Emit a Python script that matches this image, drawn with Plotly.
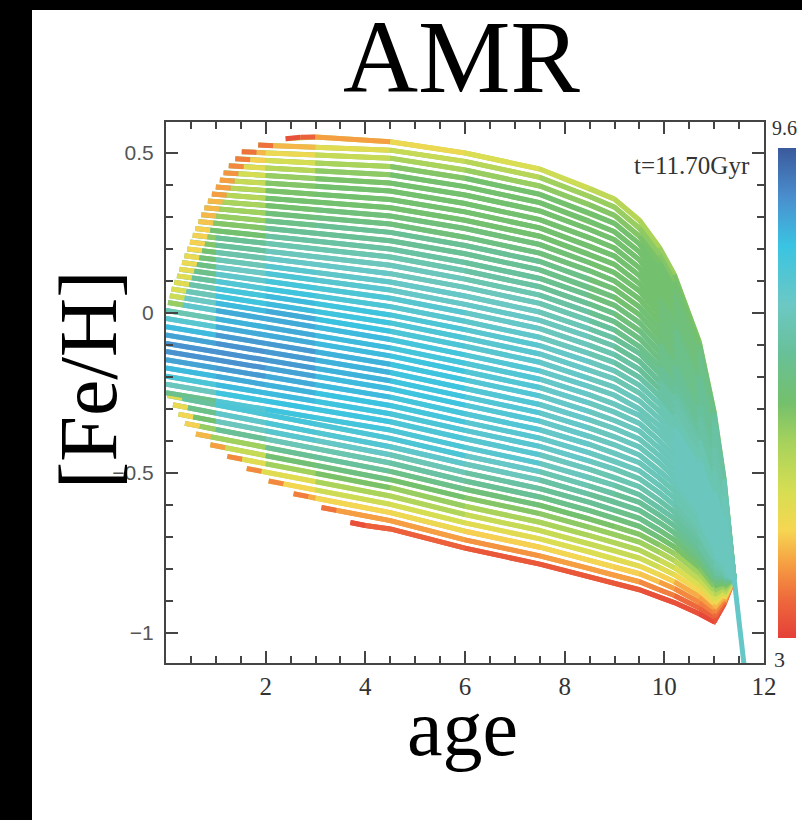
import plotly.graph_objects as go
from plotly.colors import sample_colorscale

# ---------------------------------------------------------------------------
# Age-metallicity tracks at t = 11.70 Gyr.
# Every track shares the age columns below; a track that begins later starts
# with its own leading ages (TRACK_HEAD_AGES) and then picks up the columns.
# ---------------------------------------------------------------------------
AGE_COLS = [0, 1, 2, 3, 4.5, 6, 7.5, 8.5, 9.0, 9.5, 9.9, 10.2, 10.7, 11.0, 11.2, 11.4]

TRACK_HEAD_AGES = [
    [2.4, 2.7], [1.85, 2.15], [1.52, 1.82], [1.39, 1.69], [1.26, 1.56],
    [1.155, 1.455], [1.08, 1.38], [1.0, 1.3], [0.92, 1.22], [0.84, 1.14],
    [0.77, 1.07], [0.71, 1.01], [0.65, 0.95], [0.59, 0.89], [0.535, 0.835],
    [0.48, 0.78], [0.425, 0.725], [0.37, 0.67], [0.32, 0.62], [0.27, 0.57],
    [0.22, 0.52], [0.165, 0.465], [0.11, 0.41], [0.075, 0.375], [0.04, 0.34],
    [], [], [], [], [], [], [], [], [], [], [],
    [0.03, 0.33], [0.14, 0.44], [0.25, 0.55], [0.38, 0.68], [0.60, 0.90],
    [0.89, 1.19], [1.23, 1.53], [1.62, 1.92], [2.06, 2.36], [2.56, 2.86],
    [3.12, 3.42], [3.7, 4.0],
]

TRACK_FEH = [
    [0.545, 0.549, 0.550, 0.535, 0.500, 0.450, 0.390, 0.356, 0.290, 0.205, 0.120, -0.090, -0.310, -0.520, -0.830],
    [0.525, 0.523, 0.518, 0.509, 0.474, 0.424, 0.364, 0.331, 0.265, 0.182, 0.098, -0.108, -0.324, -0.528, -0.830],
    [0.504, 0.502, 0.500, 0.494, 0.484, 0.447, 0.397, 0.338, 0.305, 0.240, 0.159, 0.076, -0.126, -0.338, -0.537, -0.830],
    [0.482, 0.479, 0.477, 0.469, 0.458, 0.421, 0.371, 0.312, 0.280, 0.216, 0.135, 0.055, -0.144, -0.352, -0.545, -0.830],
    [0.460, 0.457, 0.453, 0.445, 0.432, 0.395, 0.345, 0.287, 0.254, 0.191, 0.112, 0.033, -0.162, -0.366, -0.553, -0.830],
    [0.438, 0.435, 0.430, 0.420, 0.406, 0.369, 0.319, 0.261, 0.229, 0.166, 0.089, 0.011, -0.180, -0.380, -0.562, -0.830],
    [0.416, 0.412, 0.406, 0.396, 0.381, 0.342, 0.292, 0.235, 0.203, 0.141, 0.066, -0.011, -0.199, -0.394, -0.570, -0.830],
    [0.394, 0.390, 0.383, 0.371, 0.355, 0.316, 0.266, 0.209, 0.178, 0.117, 0.042, -0.033, -0.217, -0.408, -0.578, -0.830],
    [0.372, 0.368, 0.359, 0.347, 0.329, 0.290, 0.240, 0.183, 0.152, 0.092, 0.019, -0.055, -0.235, -0.422, -0.586, -0.830],
    [0.350, 0.347, 0.336, 0.323, 0.303, 0.264, 0.214, 0.157, 0.126, 0.069, -0.004, -0.076, -0.253, -0.435, -0.595, -0.830],
    [0.329, 0.325, 0.312, 0.298, 0.278, 0.237, 0.187, 0.132, 0.100, 0.044, -0.028, -0.098, -0.271, -0.449, -0.603, -0.830],
    [0.307, 0.303, 0.288, 0.274, 0.252, 0.211, 0.161, 0.106, 0.075, 0.019, -0.051, -0.120, -0.289, -0.463, -0.611, -0.830],
    [0.286, 0.281, 0.265, 0.249, 0.226, 0.185, 0.135, 0.080, 0.049, -0.005, -0.074, -0.142, -0.307, -0.477, -0.620, -0.830],
    [0.264, 0.259, 0.241, 0.225, 0.200, 0.158, 0.108, 0.054, 0.024, -0.030, -0.097, -0.164, -0.325, -0.491, -0.628, -0.830],
    [0.243, 0.238, 0.235, 0.218, 0.200, 0.175, 0.132, 0.082, 0.028, -0.002, -0.055, -0.121, -0.185, -0.343, -0.505, -0.636, -0.830],
    [0.222, 0.216, 0.212, 0.194, 0.176, 0.149, 0.106, 0.056, 0.002, -0.027, -0.080, -0.144, -0.207, -0.361, -0.519, -0.645, -0.830],
    [0.200, 0.195, 0.190, 0.171, 0.152, 0.123, 0.080, 0.030, -0.024, -0.053, -0.105, -0.167, -0.229, -0.379, -0.533, -0.653, -0.830],
    [0.179, 0.173, 0.167, 0.147, 0.127, 0.097, 0.053, 0.003, -0.050, -0.079, -0.126, -0.190, -0.251, -0.397, -0.547, -0.661, -0.830],
    [0.158, 0.152, 0.144, 0.124, 0.103, 0.072, 0.027, -0.023, -0.075, -0.104, -0.151, -0.214, -0.273, -0.416, -0.561, -0.669, -0.830],
    [0.137, 0.131, 0.122, 0.100, 0.078, 0.046, 0.001, -0.049, -0.101, -0.130, -0.176, -0.237, -0.294, -0.434, -0.575, -0.678, -0.830],
    [0.116, 0.110, 0.099, 0.076, 0.054, 0.020, -0.026, -0.076, -0.127, -0.155, -0.201, -0.260, -0.316, -0.452, -0.589, -0.686, -0.830],
    [0.096, 0.089, 0.076, 0.053, 0.030, -0.006, -0.052, -0.102, -0.153, -0.181, -0.226, -0.283, -0.338, -0.470, -0.603, -0.694, -0.830],
    [0.075, 0.068, 0.053, 0.029, 0.005, -0.031, -0.078, -0.128, -0.179, -0.206, -0.250, -0.307, -0.360, -0.488, -0.617, -0.703, -0.830],
    [0.054, 0.047, 0.031, 0.006, -0.019, -0.057, -0.104, -0.154, -0.205, -0.232, -0.275, -0.330, -0.382, -0.506, -0.631, -0.711, -0.830],
    [0.033, 0.025, 0.008, -0.018, -0.044, -0.083, -0.131, -0.181, -0.230, -0.257, -0.300, -0.353, -0.403, -0.524, -0.645, -0.719, -0.830],
    [0.008, -0.018, -0.044, -0.070, -0.109, -0.157, -0.207, -0.256, -0.285, -0.320, -0.376, -0.425, -0.542, -0.658, -0.728, -0.830],
    [-0.017, -0.043, -0.069, -0.095, -0.134, -0.183, -0.233, -0.282, -0.310, -0.345, -0.400, -0.447, -0.560, -0.672, -0.736, -0.830],
    [-0.043, -0.069, -0.095, -0.121, -0.160, -0.209, -0.259, -0.308, -0.336, -0.369, -0.423, -0.469, -0.578, -0.686, -0.744, -0.830],
    [-0.069, -0.095, -0.121, -0.147, -0.186, -0.236, -0.286, -0.334, -0.361, -0.394, -0.446, -0.491, -0.596, -0.700, -0.752, -0.830],
    [-0.095, -0.121, -0.147, -0.173, -0.212, -0.262, -0.312, -0.360, -0.387, -0.419, -0.469, -0.513, -0.615, -0.714, -0.761, -0.830],
    [-0.120, -0.146, -0.172, -0.198, -0.237, -0.288, -0.338, -0.386, -0.412, -0.444, -0.493, -0.534, -0.633, -0.728, -0.769, -0.830],
    [-0.146, -0.172, -0.198, -0.224, -0.263, -0.315, -0.365, -0.411, -0.438, -0.468, -0.516, -0.556, -0.651, -0.742, -0.777, -0.830],
    [-0.172, -0.198, -0.224, -0.250, -0.289, -0.341, -0.391, -0.437, -0.463, -0.493, -0.539, -0.578, -0.669, -0.756, -0.786, -0.830],
    [-0.198, -0.224, -0.250, -0.276, -0.315, -0.367, -0.417, -0.463, -0.488, -0.518, -0.562, -0.600, -0.687, -0.770, -0.794, -0.830],
    [-0.223, -0.249, -0.275, -0.301, -0.340, -0.393, -0.443, -0.489, -0.514, -0.543, -0.586, -0.622, -0.705, -0.784, -0.802, -0.830],
    [-0.249, -0.275, -0.301, -0.327, -0.366, -0.420, -0.470, -0.515, -0.539, -0.568, -0.609, -0.643, -0.723, -0.798, -0.810, -0.830],
    [-0.258, -0.267, -0.287, -0.317, -0.347, -0.392, -0.446, -0.496, -0.541, -0.565, -0.592, -0.632, -0.665, -0.741, -0.812, -0.819, -0.830],
    [-0.287, -0.296, -0.313, -0.343, -0.373, -0.418, -0.472, -0.522, -0.567, -0.590, -0.617, -0.655, -0.687, -0.759, -0.826, -0.827, -0.830],
    [-0.316, -0.325, -0.338, -0.368, -0.398, -0.443, -0.499, -0.549, -0.592, -0.616, -0.642, -0.679, -0.709, -0.777, -0.840, -0.835, -0.830],
    [-0.345, -0.354, -0.364, -0.394, -0.424, -0.469, -0.525, -0.575, -0.618, -0.641, -0.667, -0.702, -0.731, -0.795, -0.854, -0.844, -0.830],
    [-0.378, -0.387, -0.420, -0.450, -0.495, -0.551, -0.601, -0.644, -0.667, -0.692, -0.725, -0.752, -0.813, -0.867, -0.852, -0.830],
    [-0.412, -0.421, -0.446, -0.476, -0.521, -0.577, -0.627, -0.670, -0.692, -0.716, -0.748, -0.774, -0.832, -0.881, -0.860, -0.830],
    [-0.448, -0.457, -0.471, -0.501, -0.546, -0.604, -0.654, -0.696, -0.718, -0.741, -0.772, -0.796, -0.850, -0.895, -0.869, -0.830],
    [-0.486, -0.495, -0.527, -0.572, -0.630, -0.680, -0.722, -0.743, -0.766, -0.795, -0.818, -0.868, -0.909, -0.877, -0.830],
    [-0.525, -0.534, -0.553, -0.598, -0.656, -0.706, -0.747, -0.769, -0.791, -0.818, -0.840, -0.886, -0.923, -0.885, -0.830],
    [-0.565, -0.574, -0.579, -0.624, -0.682, -0.732, -0.773, -0.794, -0.815, -0.841, -0.861, -0.904, -0.937, -0.893, -0.830],
    [-0.608, -0.617, -0.649, -0.709, -0.759, -0.799, -0.820, -0.840, -0.865, -0.883, -0.922, -0.951, -0.902, -0.830],
    [-0.655, -0.664, -0.675, -0.735, -0.785, -0.825, -0.845, -0.865, -0.888, -0.905, -0.940, -0.965, -0.910, -0.830],
]

# colour-bar quantity along each track (same points as TRACK_FEH)
TRACK_COLOR = [
    [3.2, 3.3, 3.5, 4.4, 4.8, 5.0, 5.2, 5.4, 5.5, 5.7, 5.9, 6.2, 6.6, 7.0, 7.4],
    [3.3, 4.0, 4.5, 5.1, 5.3, 5.6, 5.8, 5.8, 5.8, 6.0, 6.1, 6.3, 6.7, 7.1, 7.4],
    [3.3, 4.0, 4.3, 4.9, 5.5, 5.8, 5.8, 6.0, 6.0, 6.1, 6.1, 6.2, 6.4, 6.8, 7.1, 7.4],
    [3.3, 4.1, 4.8, 5.3, 5.9, 6.1, 6.2, 6.2, 6.2, 6.2, 6.2, 6.3, 6.5, 6.8, 7.1, 7.4],
    [3.3, 4.3, 5.2, 5.7, 6.1, 6.2, 6.2, 6.2, 6.2, 6.2, 6.2, 6.3, 6.5, 6.8, 7.1, 7.4],
    [3.3, 4.5, 5.6, 6.0, 6.2, 6.2, 6.2, 6.2, 6.2, 6.2, 6.2, 6.3, 6.5, 6.8, 7.1, 7.4],
    [3.3, 4.6, 5.9, 6.1, 6.2, 6.2, 6.2, 6.2, 6.2, 6.2, 6.2, 6.3, 6.6, 6.9, 7.2, 7.4],
    [3.3, 4.7, 6.0, 6.2, 6.3, 6.2, 6.3, 6.2, 6.2, 6.2, 6.3, 6.4, 6.6, 6.9, 7.2, 7.4],
    [3.3, 4.8, 6.1, 6.2, 6.3, 6.2, 6.3, 6.2, 6.2, 6.2, 6.3, 6.4, 6.7, 7.0, 7.2, 7.4],
    [3.3, 5.0, 6.2, 6.3, 6.4, 6.3, 6.4, 6.2, 6.2, 6.2, 6.3, 6.4, 6.7, 7.0, 7.2, 7.4],
    [3.3, 5.1, 6.3, 6.5, 6.5, 6.4, 6.6, 6.3, 6.3, 6.2, 6.3, 6.4, 6.7, 7.0, 7.2, 7.4],
    [3.3, 5.2, 6.5, 6.7, 6.8, 6.7, 6.8, 6.3, 6.3, 6.2, 6.4, 6.5, 6.8, 7.0, 7.2, 7.4],
    [3.3, 5.3, 6.7, 6.8, 6.9, 6.8, 6.8, 6.4, 6.3, 6.2, 6.4, 6.5, 6.8, 7.0, 7.2, 7.4],
    [3.3, 5.5, 6.9, 7.0, 7.0, 6.9, 6.9, 6.5, 6.4, 6.3, 6.5, 6.6, 6.9, 7.1, 7.2, 7.4],
    [3.3, 5.6, 6.3, 7.2, 7.2, 7.3, 7.1, 7.0, 6.6, 6.5, 6.4, 6.6, 6.7, 6.9, 7.1, 7.3, 7.4],
    [3.3, 5.6, 6.4, 7.4, 7.4, 7.4, 7.3, 7.2, 6.8, 6.6, 6.4, 6.6, 6.7, 6.9, 7.1, 7.3, 7.4],
    [3.3, 5.7, 6.6, 7.6, 7.6, 7.5, 7.4, 7.4, 7.0, 6.8, 6.5, 6.7, 6.8, 7.0, 7.1, 7.3, 7.4],
    [3.3, 5.8, 6.8, 7.8, 7.8, 7.6, 7.5, 7.5, 7.1, 6.9, 6.6, 6.8, 6.9, 7.1, 7.2, 7.3, 7.4],
    [3.3, 6.0, 7.0, 8.0, 8.0, 7.7, 7.6, 7.6, 7.2, 7.0, 6.7, 6.9, 7.0, 7.2, 7.3, 7.4, 7.5],
    [3.3, 6.1, 7.2, 8.2, 8.1, 7.8, 7.7, 7.6, 7.3, 7.1, 6.8, 6.9, 7.0, 7.2, 7.3, 7.4, 7.5],
    [3.3, 6.3, 7.5, 8.3, 8.2, 7.9, 7.8, 7.6, 7.3, 7.1, 6.9, 7.0, 7.1, 7.3, 7.3, 7.4, 7.5],
    [3.3, 6.4, 7.8, 8.4, 8.3, 8.0, 7.9, 7.7, 7.4, 7.3, 7.1, 7.2, 7.2, 7.3, 7.4, 7.4, 7.5],
    [3.3, 6.6, 8.0, 8.5, 8.4, 8.1, 7.9, 7.7, 7.4, 7.3, 7.2, 7.2, 7.3, 7.4, 7.4, 7.4, 7.5],
    [3.4, 6.8, 8.2, 8.6, 8.5, 8.1, 8.0, 7.7, 7.5, 7.4, 7.3, 7.3, 7.3, 7.4, 7.4, 7.4, 7.5],
    [4.5, 7.0, 8.4, 8.7, 8.6, 8.2, 8.0, 7.8, 7.5, 7.4, 7.3, 7.3, 7.3, 7.4, 7.4, 7.4, 7.5],
    [6.0, 8.4, 8.6, 8.5, 8.2, 8.0, 7.8, 7.5, 7.4, 7.3, 7.3, 7.3, 7.4, 7.4, 7.4, 7.5],
    [7.0, 8.6, 8.7, 8.6, 8.3, 8.0, 7.8, 7.5, 7.4, 7.3, 7.3, 7.3, 7.4, 7.4, 7.4, 7.5],
    [7.9, 8.8, 8.8, 8.7, 8.3, 8.0, 7.8, 7.5, 7.4, 7.3, 7.3, 7.3, 7.4, 7.4, 7.4, 7.5],
    [8.5, 8.9, 8.9, 8.7, 8.3, 8.0, 7.8, 7.5, 7.4, 7.3, 7.3, 7.3, 7.4, 7.4, 7.4, 7.5],
    [8.8, 8.9, 8.9, 8.7, 8.3, 8.0, 7.8, 7.5, 7.4, 7.3, 7.3, 7.3, 7.4, 7.4, 7.4, 7.5],
    [8.8, 8.9, 8.8, 8.6, 8.3, 8.0, 7.8, 7.5, 7.4, 7.3, 7.3, 7.3, 7.3, 7.4, 7.4, 7.5],
    [8.6, 8.8, 8.7, 8.5, 8.2, 8.0, 7.8, 7.5, 7.4, 7.3, 7.3, 7.2, 7.3, 7.3, 7.4, 7.5],
    [8.3, 8.6, 8.6, 8.4, 8.2, 8.0, 7.7, 7.4, 7.4, 7.3, 7.3, 7.2, 7.2, 7.3, 7.4, 7.5],
    [7.6, 8.4, 8.4, 8.3, 8.1, 8.0, 7.7, 7.4, 7.3, 7.2, 7.2, 7.1, 7.1, 7.2, 7.3, 7.5],
    [6.6, 8.1, 8.3, 8.3, 8.1, 8.0, 7.6, 7.3, 7.2, 7.1, 7.1, 7.0, 7.0, 7.1, 7.2, 7.4],
    [5.5, 7.6, 8.2, 8.2, 8.1, 8.0, 7.5, 7.2, 7.1, 7.0, 7.0, 6.9, 6.9, 7.0, 7.2, 7.4],
    [3.5, 6.0, 7.8, 8.2, 8.1, 8.0, 7.9, 7.3, 7.0, 6.9, 6.8, 6.8, 6.8, 6.8, 6.9, 7.1, 7.4],
    [3.5, 5.8, 7.4, 8.0, 8.0, 7.8, 7.6, 7.1, 6.9, 6.8, 6.7, 6.7, 6.6, 6.6, 6.7, 6.9, 7.2],
    [3.5, 5.5, 7.0, 7.7, 7.8, 7.4, 7.2, 6.9, 6.8, 6.7, 6.6, 6.5, 6.4, 6.3, 6.4, 6.6, 7.0],
    [3.5, 5.2, 6.4, 7.2, 7.4, 7.1, 6.8, 6.7, 6.5, 6.5, 6.4, 6.3, 6.2, 6.0, 6.1, 6.3, 6.8],
    [3.5, 4.8, 6.6, 7.0, 6.8, 6.4, 6.3, 6.1, 6.1, 6.0, 5.9, 5.8, 5.6, 5.6, 5.9, 6.5],
    [3.4, 4.5, 6.0, 6.6, 6.4, 6.0, 6.0, 5.8, 5.8, 5.8, 5.6, 5.4, 5.2, 5.2, 5.6, 6.3],
    [3.4, 4.3, 5.3, 6.1, 6.1, 5.6, 5.6, 5.5, 5.5, 5.5, 5.2, 5.0, 4.8, 4.8, 5.2, 6.0],
    [3.4, 4.2, 5.5, 5.8, 5.2, 5.2, 5.2, 5.2, 5.2, 4.9, 4.6, 4.4, 4.4, 4.8, 5.8],
    [3.4, 4.1, 4.9, 5.3, 4.8, 4.9, 4.9, 4.9, 4.8, 4.5, 4.2, 4.0, 4.0, 4.4, 5.5],
    [3.4, 4.0, 4.2, 4.8, 4.4, 4.5, 4.5, 4.5, 4.4, 4.2, 3.9, 3.7, 3.7, 4.0, 5.0],
    [3.3, 3.8, 4.2, 3.9, 3.9, 4.0, 4.0, 3.9, 3.8, 3.6, 3.4, 3.4, 3.6, 4.4],
    [3.2, 3.3, 3.4, 3.3, 3.3, 3.3, 3.3, 3.3, 3.2, 3.2, 3.1, 3.1, 3.3, 3.8],
]

# common old end of all tracks
TAIL_AGES = [11.4, 11.5, 11.6]
TAIL_FEH = [-0.83, -0.95, -1.10]
TAIL_COLOR = 7.6

CBAR_MIN, CBAR_MAX = 3.0, 9.6
X_TICKS = [2, 4, 6, 8, 10, 12]
Y_TICKS = [0.5, 0, -0.5, -1]
Y_TICK_TEXT = ["0.5", "0", "\u22120.5", "\u22121"]

COLORSCALE = [
    [0.00, "rgb(228, 64, 56)"],
    [0.08, "rgb(238, 106, 60)"],
    [0.15, "rgb(246, 158, 66)"],
    [0.22, "rgb(246, 214, 82)"],
    [0.30, "rgb(214, 222, 82)"],
    [0.40, "rgb(166, 210, 92)"],
    [0.48, "rgb(116, 192, 108)"],
    [0.58, "rgb(104, 192, 152)"],
    [0.68, "rgb(108, 200, 196)"],
    [0.80, "rgb(58, 196, 226)"],
    [0.90, "rgb(74, 142, 206)"],
    [1.00, "rgb(58, 90, 156)"],
]

# ---------------------------------------------------------------------------
# figure geometry (pixels)
W, H = 802, 820
ML, MR, MT, MB = 166, 38, 122, 157
PW, PH = W - ML - MR, H - MT - MB
LINE_W = 5


def px(x):
    return (x - ML) / PW


def py(y):
    return (H - MB - y) / PH


def to_color(value):
    frac = min(max((value - CBAR_MIN) / (CBAR_MAX - CBAR_MIN), 0), 1)
    return sample_colorscale(COLORSCALE, [frac])[0]


def bin_key(value):
    return round(value * 10) / 10


# ---------------------------------------------------------------------------
# each track is drawn twice: once as a continuous under-stroke in its mean
# colour (keeps the joins seamless) and once segment by segment in the
# local colour; both passes are grouped by colour into few traces
under = {}
segments = {}


def push(store, key, xs, ys):
    bx, by = store.setdefault(key, ([], []))
    bx.extend(list(xs) + [None])
    by.extend(list(ys) + [None])


for head, feh, col in zip(TRACK_HEAD_AGES, TRACK_FEH, TRACK_COLOR):
    n_cols = len(feh) - len(head)
    ages = list(head) + AGE_COLS[len(AGE_COLS) - n_cols:]
    push(under, bin_key(sum(col) / len(col)), ages, feh)
    for i in range(len(ages) - 1):
        push(segments, bin_key(0.5 * (col[i] + col[i + 1])),
             ages[i:i + 2], feh[i:i + 2])

push(segments, bin_key(TAIL_COLOR), TAIL_AGES, TAIL_FEH)

fig = go.Figure()
for store in (under, segments):
    for key in sorted(store):
        xs, ys = store[key]
        fig.add_trace(go.Scatter(
            x=xs, y=ys, mode="lines",
            line=dict(color=to_color(key), width=LINE_W),
            hoverinfo="skip", showlegend=False,
        ))

# colour bar carrier
fig.add_trace(go.Scatter(
    x=[None], y=[None], mode="markers", showlegend=False, hoverinfo="skip",
    marker=dict(
        color=[CBAR_MIN], cmin=CBAR_MIN, cmax=CBAR_MAX,
        colorscale=COLORSCALE, showscale=True,
        colorbar=dict(
            x=px(778), xanchor="left", y=py(148), yanchor="top",
            len=490, lenmode="pixels", thickness=18, thicknessmode="pixels",
            xpad=0, ypad=0, outlinewidth=0, showticklabels=False, ticks="",
        ),
    ),
))

axis_color = "#444444"
fig.update_xaxes(
    range=[0, 12], tickvals=X_TICKS, ticks="inside", ticklen=12, tickwidth=1.5,
    tickcolor=axis_color, showline=True, linecolor=axis_color, linewidth=2,
    mirror="allticks", showgrid=False, zeroline=False,
    tickfont=dict(family="Liberation Serif", size=25, color="#333333"),
    ticklabelstandoff=0,
    minor=dict(dtick=0.5, tick0=0, ticks="inside", ticklen=7, tickwidth=1.5,
               tickcolor=axis_color, showgrid=False),
)
fig.update_yaxes(
    range=[-1.094, 0.597], tickvals=Y_TICKS, ticktext=Y_TICK_TEXT,
    ticks="inside", ticklen=12, tickwidth=1.5, tickcolor=axis_color,
    showline=True, linecolor=axis_color, linewidth=2, mirror="allticks",
    showgrid=False, zeroline=False,
    tickfont=dict(family="Liberation Sans", size=21, color="#555555"),
    ticklabelstandoff=6,
    minor=dict(dtick=0.1, tick0=0, ticks="inside", ticklen=7, tickwidth=1.5,
               tickcolor=axis_color, showgrid=False),
)

serif = "Liberation Serif"
annotations = [
    dict(text="AMR", x=px(462), y=py(56), font=dict(family=serif, size=104, color="black")),
    dict(text="age", x=px(462), y=py(728), font=dict(family=serif, size=80, color="black")),
    dict(text="[Fe/H]", x=px(88), y=py(380), textangle=-90,
         font=dict(family=serif, size=82, color="black")),
    dict(text="t=11.70Gyr", x=px(752), y=py(165), xanchor="right",
         font=dict(family=serif, size=25, color="#333333")),
    dict(text="9.6", x=px(784), y=py(128), font=dict(family=serif, size=20, color="#333333")),
    dict(text="3", x=px(779), y=py(659), font=dict(family=serif, size=22, color="#333333")),
]
for a in annotations:
    a.setdefault("xanchor", "center")
    a.update(xref="paper", yref="paper", yanchor="middle", showarrow=False)

shapes = [
    # dark surround of the panel
    dict(type="rect", xref="paper", yref="paper", x0=px(0), x1=px(32),
         y0=py(H), y1=py(0), fillcolor="black", line=dict(width=0), layer="above"),
    dict(type="rect", xref="paper", yref="paper", x0=px(0), x1=px(W),
         y0=py(10), y1=py(0), fillcolor="black", line=dict(width=0), layer="above"),
]

fig.update_layout(
    width=W, height=H, margin=dict(l=ML, r=MR, t=MT, b=MB, autoexpand=False),
    paper_bgcolor="white", plot_bgcolor="white",
    annotations=annotations, shapes=shapes, showlegend=False,
)

fig.write_html("out.html")
